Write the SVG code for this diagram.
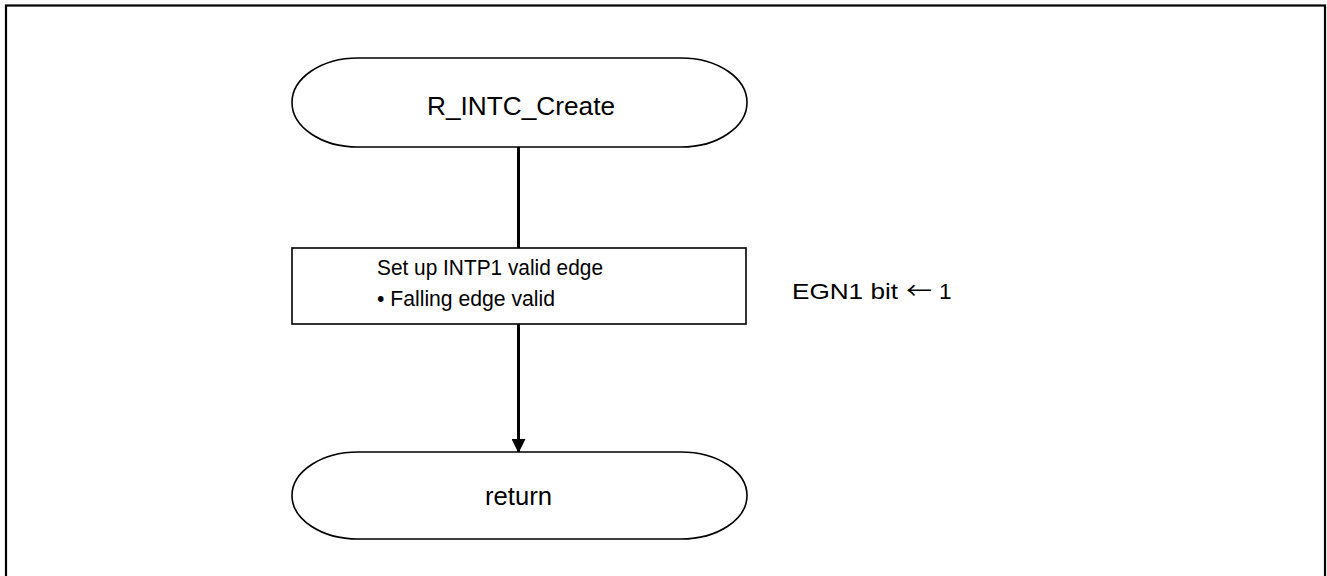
<svg xmlns="http://www.w3.org/2000/svg" width="1327" height="576" viewBox="0 0 1327 576">
<style>
.shape{fill:#fff;stroke:#000;stroke-width:1.6}
.t{font-family:"Liberation Sans",Arial,sans-serif;fill:#000}
.conn{stroke:#000;stroke-width:3;fill:none}
</style>
<defs>
<marker id="ah" markerWidth="14" markerHeight="14" viewBox="0 0 14 14" refX="13" refY="7" orient="auto" markerUnits="userSpaceOnUse">
<path d="M0,0 L14,7 L0,14 Z" fill="#000"/>
</marker>
</defs>
<rect x="6" y="5.5" width="1319" height="590" fill="#fff" stroke="#000" stroke-width="2.2"/>
<g id="connectors">
<line class="conn" x1="518.5" y1="147" x2="518.5" y2="248"/>
<line class="conn" x1="518.5" y1="324" x2="518.5" y2="452" marker-end="url(#ah)"/>
</g>
<g id="start">
<rect class="shape" x="292" y="58" width="455" height="89" rx="66" ry="44.5"/>
<text class="t" x="427" y="115" font-size="25.5" textLength="188" lengthAdjust="spacingAndGlyphs">R_INTC_Create</text>
</g>
<g id="process">
<rect class="shape" x="292" y="248" width="454" height="76"/>
<text class="t" x="377" y="275" font-size="21.5" textLength="226" lengthAdjust="spacingAndGlyphs">Set up INTP1 valid edge</text>
<text class="t" x="377" y="306" font-size="21.5" textLength="178" lengthAdjust="spacingAndGlyphs">• Falling edge valid</text>
</g>
<g id="note">
<text class="t" y="299" font-size="22.5"><tspan x="792" textLength="106" lengthAdjust="spacingAndGlyphs">EGN1 bit</tspan><tspan x="906" font-family="'Noto Sans CJK JP',sans-serif" textLength="26" lengthAdjust="spacingAndGlyphs">←</tspan><tspan x="939">1</tspan></text>
</g>
<g id="end">
<rect class="shape" x="292" y="452" width="455" height="87" rx="66" ry="43.5"/>
<text class="t" x="485" y="505" font-size="25.5" textLength="67" lengthAdjust="spacingAndGlyphs">return</text>
</g>
</svg>
